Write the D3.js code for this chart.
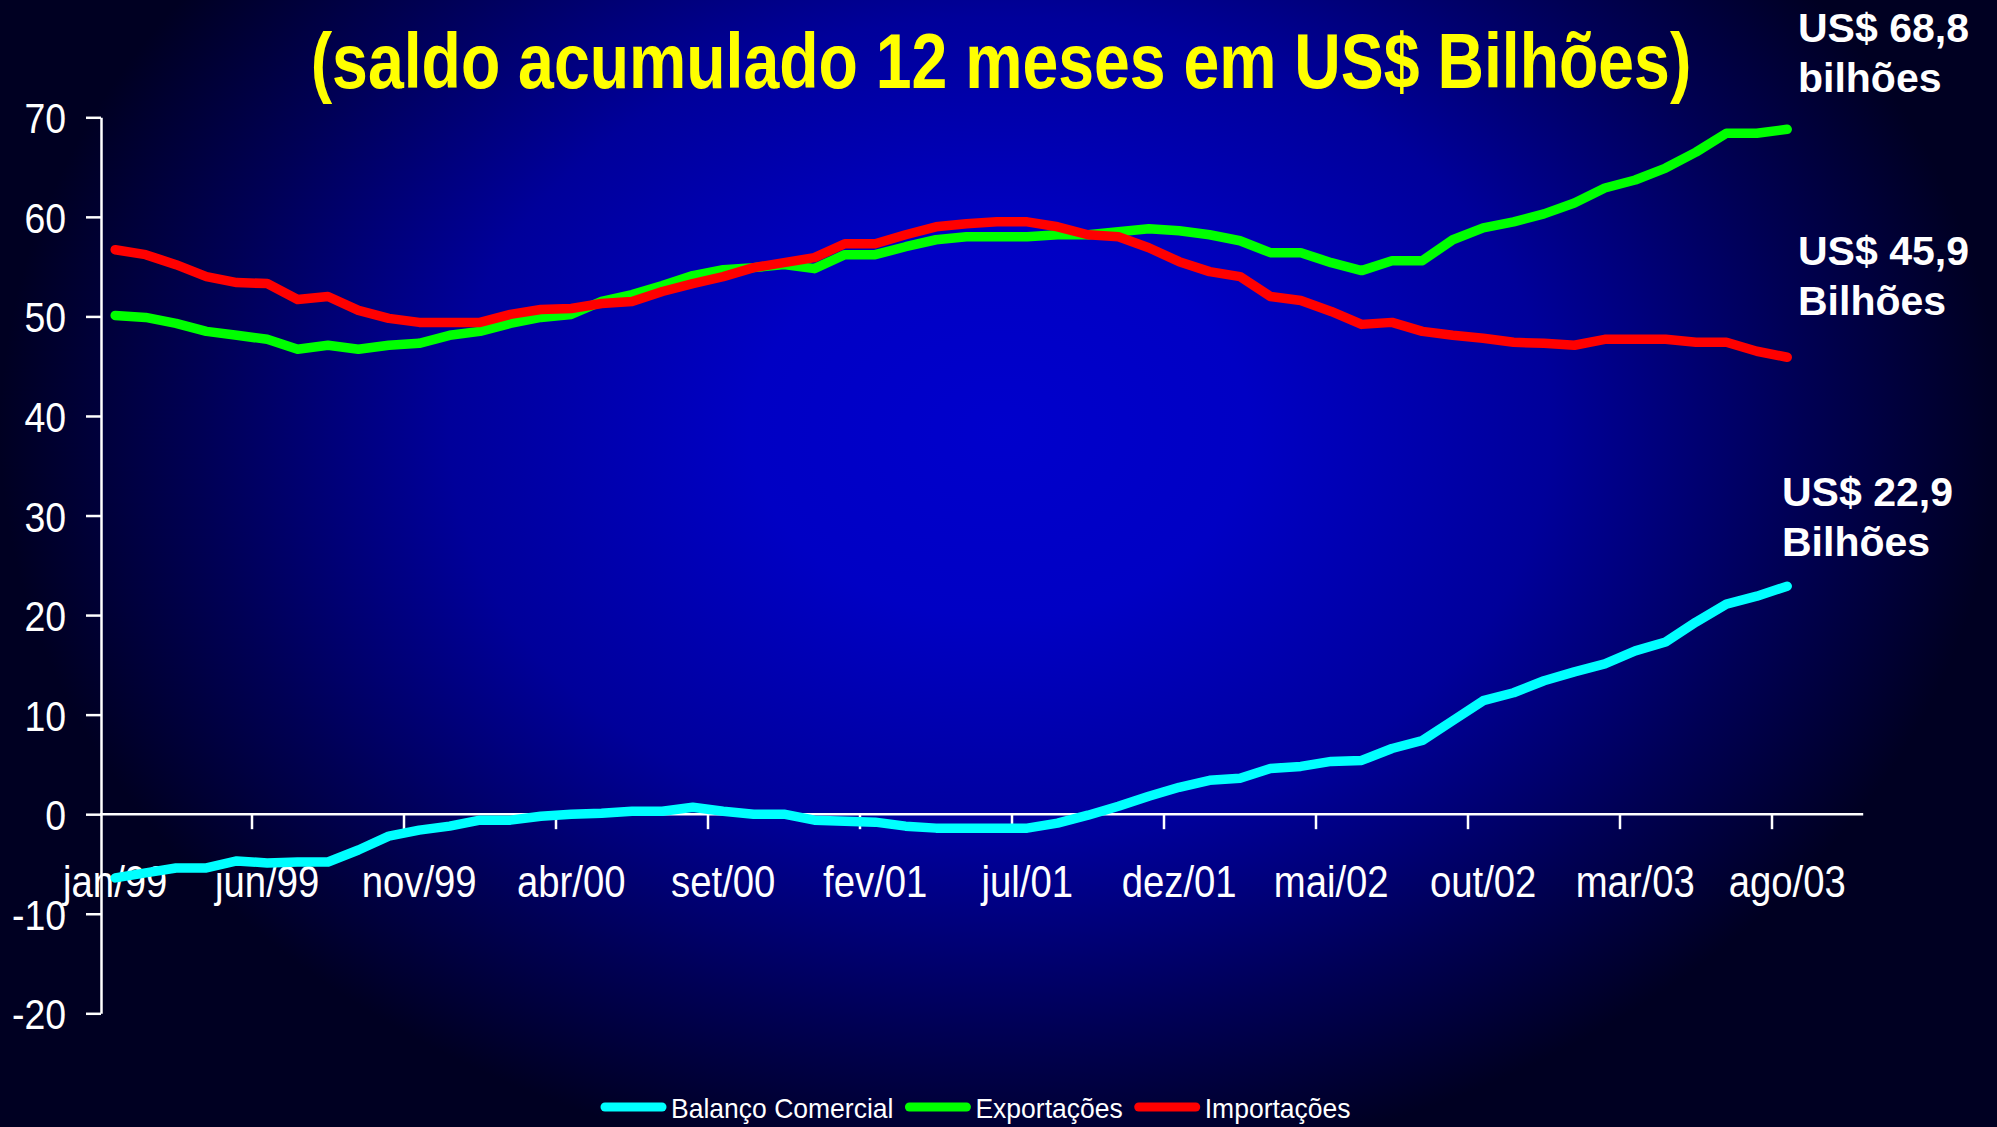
<!DOCTYPE html>
<html><head><meta charset="utf-8">
<script src="https://cdn.jsdelivr.net/npm/d3@7"></script>
<style>html,body{margin:0;padding:0;background:#000022;overflow:hidden}</style>
</head><body>
<svg id="chart" width="1997" height="1127"></svg>
<script>
// ---------- DATA ----------
const months = [
  "jan/99","fev/99","mar/99","abr/99","mai/99","jun/99","jul/99","ago/99","set/99","out/99","nov/99","dez/99",
  "jan/00","fev/00","mar/00","abr/00","mai/00","jun/00","jul/00","ago/00","set/00","out/00","nov/00","dez/00",
  "jan/01","fev/01","mar/01","abr/01","mai/01","jun/01","jul/01","ago/01","set/01","out/01","nov/01","dez/01",
  "jan/02","fev/02","mar/02","abr/02","mai/02","jun/02","jul/02","ago/02","set/02","out/02","nov/02","dez/02",
  "jan/03","fev/03","mar/03","abr/03","mai/03","jun/03","jul/03","ago/03","set/03","out/03"
];
const balanco = [
  -6.4,-5.9,-5.4,-5.4,-4.7,-4.9,-4.8,-4.8,-3.6,-2.2,-1.6,-1.2,
  -0.6,-0.6,-0.2,0.0,0.1,0.3,0.3,0.7,0.3,0.0,0.0,-0.6,
  -0.7,-0.8,-1.2,-1.4,-1.4,-1.4,-1.4,-0.9,-0.1,0.8,1.8,2.7,
  3.4,3.6,4.6,4.8,5.3,5.4,6.6,7.4,9.4,11.4,12.2,13.4,
  14.3,15.1,16.4,17.3,19.3,21.1,21.9,22.9
];
const exportacoes = [
  50.1,49.9,49.3,48.5,48.1,47.7,46.7,47.1,46.7,47.1,47.3,48.1,
  48.5,49.3,49.9,50.2,51.5,52.2,53.1,54.1,54.7,54.9,55.2,54.8,
  56.2,56.2,57.0,57.7,58.0,58.0,58.0,58.2,58.2,58.5,58.8,58.6,
  58.2,57.6,56.4,56.4,55.4,54.6,55.6,55.6,57.7,58.9,59.5,60.3,
  61.4,62.9,63.7,64.9,66.5,68.4,68.4,68.8
];
const importacoes = [
  56.7,56.2,55.2,54.0,53.4,53.3,51.7,52.0,50.6,49.8,49.4,49.4,
  49.4,50.2,50.7,50.8,51.3,51.5,52.5,53.3,54.0,54.9,55.4,55.9,
  57.3,57.3,58.2,59.0,59.3,59.5,59.5,59.0,58.2,58.0,56.9,55.5,
  54.5,54.0,52.0,51.6,50.5,49.2,49.4,48.5,48.1,47.8,47.4,47.3,
  47.1,47.7,47.7,47.7,47.4,47.4,46.5,45.9
];
const yTickValues = [70,60,50,40,30,20,10,0,-10,-20];
const xLabelMonths = ["jan/99","jun/99","nov/99","abr/00","set/00","fev/01","jul/01","dez/01","mai/02","out/02","mar/03","ago/03"];
const xTickMonths = ["jun/99","nov/99","abr/00","set/00","fev/01","jul/01","dez/01","mai/02","out/02","mar/03","ago/03"];
const seriesNames = ["Balanço Comercial","Exportações","Importações"];
const seriesColors = ["#00FFFF","#00FF00","#FF0000"];
const seriesValues = [balanco, exportacoes, importacoes];
const titleText = "(saldo acumulado 12 meses em US$ Bilhões)";
const endLabelLines = [["US$ 68,8","bilhões"],["US$ 45,9","Bilhões"],["US$ 22,9","Bilhões"]];

// ---------- LAYOUT ----------
const W = 1997, H = 1127;
const svg = d3.select("#chart");
const defs = svg.append("defs");
const grad = defs.append("radialGradient").attr("id","bg")
  .attr("gradientUnits","userSpaceOnUse")
  .attr("cx",1000).attr("cy",430).attr("r",1000)
  .attr("gradientTransform","translate(1000,430) scale(1,0.75) translate(-1000,-430)");
[[0,"#0000CC"],[0.25,"#0000C4"],[0.55,"#00009A"],[0.8,"#000055"],[1,"#000022"]]
  .forEach(([o,c]) => grad.append("stop").attr("offset",o).attr("stop-color",c));
svg.append("rect").attr("width",W).attr("height",H).attr("fill","url(#bg)");

const x = d3.scaleBand().domain(months).range([100, 1863.2]).padding(0);
const y = d3.scaleLinear().domain([-20,70]).range([1013.3,117.3]);
const xc = m => x(m) + x.bandwidth()/2;

const FONT = "'Liberation Sans', Arial, Helvetica, sans-serif";
const NARROW = 0.87;

// Title
svg.append("text").attr("x",0).attr("y",0)
  .attr("transform",`translate(1001,88) scale(0.836,1)`)
  .attr("text-anchor","middle").attr("font-family",FONT).attr("font-weight","bold")
  .attr("font-size",77).attr("fill","#FFFF00").text(titleText);

// Y axis
const yAxisG = svg.append("g").attr("transform","translate(101,0)")
  .call(d3.axisLeft(y).tickValues(yTickValues).tickSize(15).tickSizeOuter(0).tickFormat(d => String(d)));
yAxisG.select(".domain").attr("stroke","#fff").attr("stroke-width",2.5);
yAxisG.selectAll(".tick line").attr("stroke","#fff").attr("stroke-width",2.5);
yAxisG.selectAll(".tick text")
  .attr("fill","#fff").attr("font-family",FONT).attr("font-size",43)
  .attr("x",-35/NARROW).attr("dy","0.36em")
  .attr("transform",`scale(${NARROW},1)`);

// X axis (category axis through zero)
const y0 = y(0);
const xAxisG = svg.append("g").attr("transform",`translate(0,${y0})`);
xAxisG.append("line").attr("x1",x.range()[0]).attr("x2",x.range()[1])
  .attr("y1",0).attr("y2",0).attr("stroke","#fff").attr("stroke-width",2.5);
xAxisG.selectAll("line.tk").data(xTickMonths).join("line").attr("class","tk")
  .attr("x1",d=>x(d)).attr("x2",d=>x(d)).attr("y1",0).attr("y2",15)
  .attr("stroke","#fff").attr("stroke-width",2.5);
const xLab = svg.append("g").attr("transform",`translate(0,${y0})`)
  .call(d3.axisBottom(x).tickValues(xLabelMonths).tickSize(0).tickSizeOuter(0));
xLab.select(".domain").remove();
xLab.selectAll(".tick text")
  .attr("fill","#fff").attr("font-family",FONT).attr("font-size",44)
  .attr("y",83).attr("dy",0)
  .attr("transform",`scale(${NARROW},1)`);

// Lines
const line = d3.line().x((d,i)=>xc(months[i])).y(d=>y(d));
svg.append("g").selectAll("path.series").data(seriesValues).join("path")
  .attr("class","series")
  .attr("d",d=>line(d)).attr("fill","none")
  .attr("stroke",(d,i)=>seriesColors[i]).attr("stroke-width",9.5)
  .attr("stroke-linecap","round").attr("stroke-linejoin","round");

// End labels
const endPos = [[1798,42],[1798,265],[1782,506]];
endLabelLines.forEach((lines,k)=>{
  const t = svg.append("text").attr("font-family",FONT).attr("font-weight","bold")
    .attr("font-size",41).attr("fill","#fff");
  lines.forEach((s,j)=>t.append("tspan").attr("x",endPos[k][0]).attr("y",endPos[k][1]+j*50).text(s));
});

// Legend
const legG = svg.append("g");
let lx = 601;
const legY = 1107;
const LEG_SCALE = 0.93;
seriesNames.forEach((name,i)=>{
  legG.append("line").attr("x1",lx+4).attr("x2",lx+61).attr("y1",legY).attr("y2",legY)
    .attr("stroke",seriesColors[i]).attr("stroke-width",9).attr("stroke-linecap","round");
  lx += 70;
  const t = legG.append("text").attr("x",0).attr("y",0)
    .attr("transform",`translate(${lx},1118) scale(${LEG_SCALE},1)`)
    .attr("font-family",FONT).attr("font-size",28.5).attr("fill","#fff").text(name);
  lx += t.node().getComputedTextLength()*LEG_SCALE + 12;
});
</script>
</body></html>
